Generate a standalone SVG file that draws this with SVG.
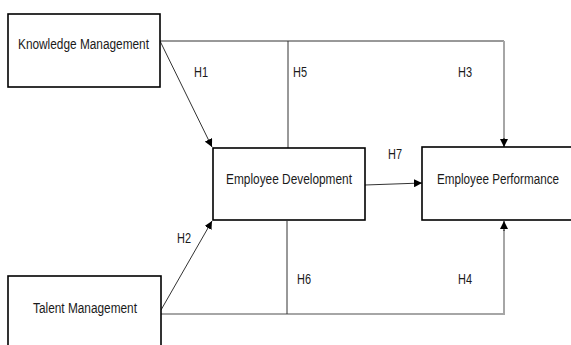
<svg xmlns="http://www.w3.org/2000/svg" width="571" height="345" viewBox="0 0 571 345">
  <style>
    .box { fill: #ffffff; stroke: #000000; stroke-width: 1.6; }
    .lbl { font-family: "Liberation Sans", Arial, sans-serif; font-size: 14px; fill: #1a1a1a; }
    .link { fill: none; stroke: #333333; stroke-width: 1; }
    .link-light { fill: none; stroke: #a6a6a6; stroke-width: 2; }
  </style>
  <defs>
    <marker id="arrow" viewBox="0 0 10 10" refX="10" refY="5" markerWidth="8" markerHeight="8" markerUnits="userSpaceOnUse" orient="auto">
      <path d="M0,0 L10,5 L0,10 z" fill="#000000"/>
    </marker>
  </defs>
  <rect width="571" height="345" fill="#ffffff"/>

  <g id="connectors">
    <!-- Knowledge Management -> Employee Development (H1) -->
    <line class="link" x1="160" y1="41" x2="212" y2="147" marker-end="url(#arrow)"/>
    <!-- Talent Management -> Employee Development (H2) -->
    <line class="link" x1="161" y1="310" x2="212" y2="221" marker-end="url(#arrow)"/>
    <!-- Knowledge Management -> Employee Performance (H3) -->
    <polyline class="link" points="160,41 504,41"/>
    <polyline class="link-light" points="504,41 504,139"/>
    <line x1="504" y1="138" x2="504" y2="147" stroke="#000" stroke-width="1" marker-end="url(#arrow)"/>
    <!-- Talent Management -> Employee Performance (H4) -->
    <polyline class="link-light" points="161,314 504,314 504,230"/>
    <line x1="504" y1="231" x2="504" y2="221" stroke="#000" stroke-width="1" marker-end="url(#arrow)"/>
    <!-- H5 / H6 mediation ties -->
    <line class="link" x1="288" y1="41" x2="288" y2="148"/>
    <line class="link" x1="287" y1="221" x2="287" y2="314"/>
    <!-- Employee Development -> Employee Performance (H7) -->
    <line class="link" x1="365" y1="185" x2="422" y2="183" marker-end="url(#arrow)"/>
  </g>

  <g id="knowledge-management">
    <rect class="box" x="8" y="14" width="152" height="73"/>
    <text class="lbl" x="18" y="49" textLength="131" lengthAdjust="spacingAndGlyphs">Knowledge Management</text>
  </g>

  <g id="talent-management">
    <rect class="box" x="8" y="276" width="153" height="80"/>
    <text class="lbl" x="33" y="313" textLength="104" lengthAdjust="spacingAndGlyphs">Talent Management</text>
  </g>

  <g id="employee-development">
    <rect class="box" x="213" y="148" width="152" height="72"/>
    <text class="lbl" x="226" y="184" textLength="126" lengthAdjust="spacingAndGlyphs">Employee Development</text>
  </g>

  <g id="employee-performance">
    <rect class="box" x="422" y="147" width="151" height="73"/>
    <text class="lbl" x="437" y="184" textLength="122" lengthAdjust="spacingAndGlyphs">Employee Performance</text>
  </g>

  <g id="hypotheses">
    <text class="lbl" x="194" y="77" textLength="14" lengthAdjust="spacingAndGlyphs">H1</text>
    <text class="lbl" x="293" y="77" textLength="14" lengthAdjust="spacingAndGlyphs">H5</text>
    <text class="lbl" x="458" y="77" textLength="14" lengthAdjust="spacingAndGlyphs">H3</text>
    <text class="lbl" x="388" y="159" textLength="14" lengthAdjust="spacingAndGlyphs">H7</text>
    <text class="lbl" x="177" y="243" textLength="14" lengthAdjust="spacingAndGlyphs">H2</text>
    <text class="lbl" x="297" y="284" textLength="14" lengthAdjust="spacingAndGlyphs">H6</text>
    <text class="lbl" x="458" y="284" textLength="14" lengthAdjust="spacingAndGlyphs">H4</text>
  </g>
</svg>
